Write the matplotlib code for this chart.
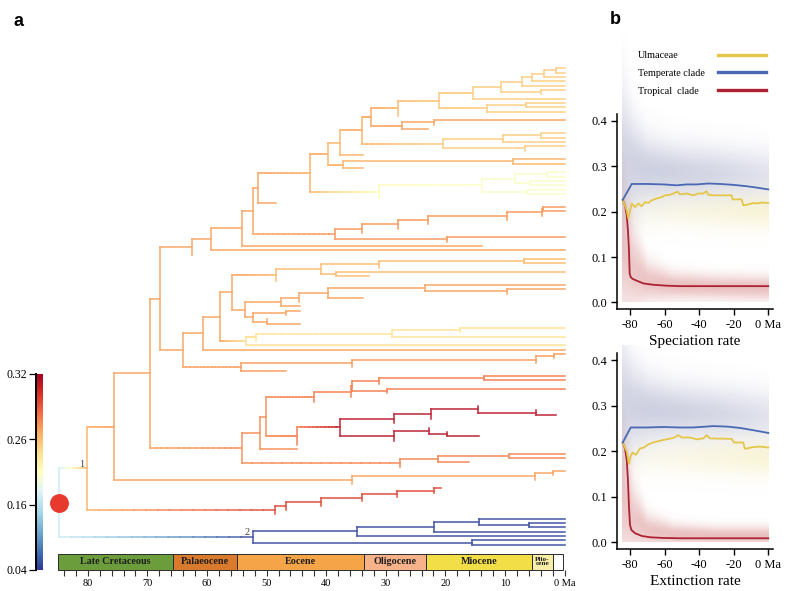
import numpy as np
import matplotlib
matplotlib.use("Agg")
import matplotlib.pyplot as plt
from matplotlib.collections import LineCollection
from matplotlib.colors import FuncNorm
from matplotlib.cm import ScalarMappable
from matplotlib.lines import Line2D

plt.rcParams["font.family"] = ["Liberation Serif", "DejaVu Serif"]

W, H = 798, 591

# ---------------------------------------------------------------
# tree in a small newick-like form
#   ")age"  node age in Ma,  ":r" rate (inherited downwards)
#   tips: t = reaches present, z = zero length, eX = ends at X Ma
# ---------------------------------------------------------------
A1 = "(t,t)1.5"
A2 = f"({A1},t)3.5"
A3 = f"({A2},t)5.5"
A4 = f"({A3},t)7.2"
A5 = "(t,z)3.9"
A6 = f"({A4},{A5})10.7"
A7 = f"({A6},t)15.3:0.252"
B2 = "((t,t)6.4,t)13.1:0.252"
A8 = f"({A7},{B2})21.0:0.256"
A9 = f"({A8},z)27.9:0.262"
C2 = "((t,z)21.9,e23.0)27.2:0.27"
A10 = f"({A9},{C2})32.4:0.268"
D4 = "(((t,t)4.0,t)10.4,(t,z)6.6)20.4:0.252"
A11 = f"({A10},{D4})34.0:0.266"
A12 = f"({A11},e33.9)37.7:0.264"
E2 = "((t,t)8.6,e33.9)37.1:0.265"
A13 = f"({A12},{E2})39.7:0.264"
F6 = "((((t,t)3.0,(t,t)5.8)8.3,(t,t)6.3)13.8:0.206,z)31.1:0.214"
A14 = f"({A13},{F6})42.7:0.266"
A15 = f"({A14},e48.4)51.4"
G6 = "((((((t,t)3.6,z)3.8,z)9.7,z)23.0,z)27.9,z)34.0"
G8 = f"({G6},(t,z)19.7)38.6:0.273"
A16 = f"({A15},{G8})52.3"
A17 = f"({A16},e13.9)54.2"
A18 = f"({A17},t)59.3"
A19 = f"({A18},z)62.5:0.27"

H4 = "(((t,t)6.8,z)31.1,(t,e32.8)38.3)40.8"
H5 = f"({H4},z)48.5:0.262"
I3 = "((t,(t,z)9.7)23.5,e33.9)39.7:0.27"
J2 = f"(({I3},z)44.5,e44.4)47.5"
J5 = "((e44.4,z)46.7,(z,e44.4)50.0)52.2"
J6 = f"({J2},{J5})53.7:0.27"
K1 = f"({H5},{J6})55.8"
L4 = "((((t,z)17.6,t)28.9:0.236,z)51.8:0.238,t)53.5:0.24"
K3 = f"(({K1},{L4})57.8,t)60.6"
M1 = "((((t,z)1.8,z)4.8,z)35.6,e46.7)54.3:0.272"
K4 = f"({K3},{M1})64.1"
K5 = f"({A19},{K4})67.9"

Q = "(((((t,t)13.6,z)31.1,(t,z)29.8)35.6,z)35.9,z)42.0:0.28"
S1 = "(((z,(z,e1.5)4.8)14.5,z)22.4,z)28.7"
S2 = "((z,(z,e14.4)19.8)22.7,z)28.7"
R = f"(({S1},{S2})37.7:0.312,z)44.9:0.28"
NUP = f"(({Q},{R})50.1,e44.9)51.1"
O = "(((t,t)9.4,e16.0)21.3,z)27.6:0.278"
N = f"({NUP},{O})54.1:0.276"
K6 = f"({K5},{N})69.6:0.27"
U1 = "(((t,z)1.9,z)5.0,z)35.6"
X = f"({K6},{U1})75.6:0.27"
W2 = "((((((e20.8,z)21.9,z)28.2,z)34.0,z)40.9,z)46.8,z)48.6:0.297"
NODE1 = f"({X},{W2})80.1:0.265"
NODE2 = "((((t,(t,t)5.9)14.4,t)21.9,t)34.9,(t,t)15.6)52.2:0.05"
TREE = f"({NODE1},{NODE2})84.9:0.17"

RATE_TICKS = [0.04, 0.16, 0.26, 0.32]

PERIODS = ["Late Cretaceous", "Palaeocene", "Eocene", "Oligocene", "Miocene", "Plio-\ncene", ""]
PERIOD_BOUNDS = [85.0, 65.7, 55.0, 33.6, 23.3, 5.5, 1.9, 0.3]
PERIOD_COLORS = ["#6c9d3c", "#d97a2c", "#f5a548", "#f8b28a", "#f2df48", "#f6eea6", "#ffffff"]

# ---------------------------------------------------------------
# rates through time (panel b), Ma before present
# ---------------------------------------------------------------
spec_blue_t = [-84.2, -79.0, -70.4, -60.7, -53.0, -47.2, -41.4, -34.7, -27.9, -20.2, -12.5, -6.7, 0.0]
spec_blue = [0.226, 0.261, 0.261, 0.260, 0.258, 0.260, 0.260, 0.262, 0.261, 0.259, 0.256, 0.253, 0.249]
spec_yel_t = [-84.2, -81.9, -81.0, -79.0, -77.1, -75.2, -73.3, -71.3, -69.4, -67.5, -64.6, -61.7, -59.8,
              -56.9, -54.9, -52.4, -51.1, -47.2, -43.4, -40.5, -37.6, -35.7, -34.7, -31.8, -21.2, -20.6,
              -15.4, -14.5, -11.6, -8.7, -6.7, -3.9, 0.0]
spec_yel = [0.226, 0.203, 0.185, 0.218, 0.210, 0.218, 0.212, 0.221, 0.219, 0.225, 0.229, 0.232, 0.236,
            0.237, 0.240, 0.244, 0.238, 0.240, 0.236, 0.240, 0.240, 0.245, 0.237, 0.236, 0.236, 0.227,
            0.227, 0.214, 0.216, 0.219, 0.218, 0.220, 0.219]
spec_red_t = [-84.2, -82.9, -81.9, -81.2, -80.6, -80.2, -79.6, -78.5, -76.1, -72.3, -66.5, -58.8, -51.1, 0.0]
spec_red = [0.226, 0.214, 0.192, 0.159, 0.115, 0.064, 0.056, 0.052, 0.048, 0.042, 0.039, 0.037, 0.036, 0.036]

ext_blue_t = [-84.2, -79.6, -70.4, -60.7, -51.1, -43.4, -35.7, -31.8, -24.1, -16.4, -8.7, 0.0]
ext_blue = [0.219, 0.252, 0.252, 0.253, 0.252, 0.252, 0.254, 0.255, 0.254, 0.251, 0.246, 0.240]
ext_yel_t = [-84.2, -81.9, -80.6, -79.6, -78.5, -76.5, -74.2, -71.9, -69.4, -66.5, -62.6, -58.8, -54.9,
             -52.0, -50.1, -45.3, -41.4, -37.6, -35.7, -33.7, -21.2, -19.9, -14.5, -13.5, -8.7, -4.8, 0.0]
ext_yel = [0.219, 0.199, 0.172, 0.189, 0.197, 0.192, 0.206, 0.208, 0.215, 0.219, 0.223, 0.226, 0.229,
           0.235, 0.230, 0.230, 0.226, 0.228, 0.235, 0.228, 0.227, 0.219, 0.219, 0.205, 0.209, 0.210, 0.208]
ext_red_t = [-84.2, -82.9, -81.9, -81.2, -80.6, -80.0, -79.2, -77.1, -73.3, -68.4, -60.7, -51.1, 0.0]
ext_red = [0.219, 0.206, 0.181, 0.137, 0.078, 0.038, 0.027, 0.020, 0.014, 0.011, 0.0095, 0.0088, 0.0088]

# posterior clouds: centre, spread, strength at HAZE_T
HAZE_T = [-84.5, -78, -70, -55, -30, 0]
spec_haze_blue = ([0.31, 0.30, 0.29, 0.285, 0.282, 0.278], [0.11, 0.07, 0.05, 0.042, 0.04, 0.038], [0.3, 0.32, 0.33, 0.32, 0.28, 0.2])
spec_haze_yel = ([0.20] * 6, [0.028] * 6, [0.05, 0.08, 0.1, 0.14, 0.2, 0.28])
spec_haze_red = ([0.12, 0.07, 0.045, 0.035, 0.032, 0.03], [0.10, 0.06, 0.03, 0.02, 0.018, 0.018], [0.32, 0.32, 0.34, 0.36, 0.36, 0.36])
ext_haze_blue = ([0.30, 0.295, 0.29, 0.285, 0.28, 0.275], [0.10, 0.065, 0.05, 0.042, 0.04, 0.038], [0.3, 0.32, 0.33, 0.32, 0.28, 0.2])
ext_haze_yel = ([0.185] * 6, [0.028] * 6, [0.05, 0.08, 0.1, 0.14, 0.2, 0.28])
ext_haze_red = ([0.10, 0.05, 0.025, 0.016, 0.013, 0.013], [0.10, 0.05, 0.025, 0.016, 0.014, 0.014], [0.32, 0.32, 0.34, 0.36, 0.36, 0.36])

C_YEL, C_BLUE, C_RED = "#e3c64a", "#4a68b4", "#ad2233"
H_YEL, H_BLUE, H_RED = (0.93, 0.86, 0.45), (0.42, 0.45, 0.65), (0.78, 0.32, 0.32)


def px_axes(fig, x0, y0, x1, y1):
    return fig.add_axes([x0 / W, 1 - y1 / H, (x1 - x0) / W, (y1 - y0) / H])


def parse(s):
    pos = [0]

    def read():
        n = {"ch": []}
        if s[pos[0]] == "(":
            pos[0] += 1
            n["ch"].append(read())
            while s[pos[0]] == ",":
                pos[0] += 1
                n["ch"].append(read())
            pos[0] += 1
        j = pos[0]
        while pos[0] < len(s) and s[pos[0]] not in ",()":
            pos[0] += 1
        lab, _, r = s[j:pos[0]].partition(":")
        n["lab"] = lab
        n["rate"] = float(r) if r else None
        return n

    return read()


cmap = plt.get_cmap("RdYlBu_r")
norm = FuncNorm((lambda r: np.interp(r, RATE_TICKS, [0, 1 / 3, 2 / 3, 1]),
                 lambda p: np.interp(p, [0, 1 / 3, 2 / 3, 1], RATE_TICKS)), vmin=0.04, vmax=0.32)


def tone(r):
    c = np.array(cmap(norm(r))[:3])
    return 0.92 * c + 0.08


root = parse(TREE)
tips = []


def place(n, parent):
    if n["rate"] is None:
        n["rate"] = parent["rate"]
    lab = n["lab"]
    if n["ch"]:
        n["age"] = float(lab)
        for c in n["ch"]:
            place(c, n)
        n["y"] = 0.5 * (n["ch"][0]["y"] + n["ch"][-1]["y"])
    else:
        if lab == "t":
            n["age"] = 0.0
        elif lab == "z":
            n["age"] = parent["age"]
        else:
            n["age"] = float(lab[1:])
        n["y"] = len(tips)
        tips.append(n)


place(root, None)

hseg, hcol, vseg, vcol = [], [], [], []


def collect(n, parent):
    if parent is not None and parent["age"] - n["age"] > 1e-6:
        k = 1 if parent["rate"] == n["rate"] else 16
        a = np.linspace(parent["age"], n["age"], k + 1)
        r = np.linspace(parent["rate"], n["rate"], 2 * k + 1)[1::2]
        for i in range(k):
            hseg.append([(a[i], n["y"]), (a[i + 1], n["y"])])
            hcol.append(tone(r[i]))
    if n["ch"]:
        vseg.append([(n["age"], n["ch"][0]["y"]), (n["age"], n["ch"][-1]["y"])])
        vcol.append(tone(n["rate"]))
        for c in n["ch"]:
            collect(c, n)


collect(root, None)

fig = plt.figure(figsize=(W / 100, H / 100), dpi=100)

# ---------------- panel a: tree ----------------
XL = (86.34, -0.906)
ax = px_axes(fig, 50, 40, 570, 550)
ax.add_collection(LineCollection(hseg, colors=hcol, linewidths=1.1, capstyle="projecting"))
ax.add_collection(LineCollection(vseg, colors=vcol, linewidths=1.1, capstyle="projecting"))
ax.scatter([root["age"]], [root["y"]], s=185, color="#e8392e", zorder=5, linewidths=0)
for node, lab, dx in [(root["ch"][0], "1", -4.0), (root["ch"][1], "2", -4.6)]:
    ax.annotate(lab, (node["age"], node["y"]), xytext=(dx, 3.2), textcoords="offset points",
                ha="center", va="center", fontsize=7.5, color="#444444")
ax.set_xlim(*XL)
ax.set_ylim(111.22, -6.53)
ax.axis("off")

# geological time bar
ts = px_axes(fig, 50, 553.5, 570, 569.5)
for i, name in enumerate(PERIODS):
    old, young = PERIOD_BOUNDS[i], PERIOD_BOUNDS[i + 1]
    ts.barh(0.5, old - young, left=young, height=1, color=PERIOD_COLORS[i],
            edgecolor="#2b2b2b", linewidth=0.7, clip_on=False)
    if name:
        small = "\n" in name
        ts.text((old + young) / 2, 0.5, name, ha="center", va="center",
                fontsize=5.2 if small else 7.3, fontweight="bold", color="#1e1e1e",
                linespacing=0.75)
ts.set_xlim(*XL)
ts.set_ylim(0, 1)
for sp in ts.spines.values():
    sp.set_visible(False)
ts.set_yticks([])
major = np.arange(80, -1, -10)
ts.set_xticks(major)
ts.set_xticklabels([str(v) for v in major[:-1]] + ["0 Ma"])
ts.set_xticks(np.arange(84, -1, -2), minor=True)
ts.tick_params(axis="x", which="both", direction="out", length=4, width=0.8,
               color="#333333", labelsize=7.5, pad=2.5)

# colour bar
cax = px_axes(fig, 36, 374, 43, 570)
cb = fig.colorbar(ScalarMappable(norm=norm, cmap=cmap), cax=cax, ticks=RATE_TICKS)
cb.outline.set_visible(False)
cax.yaxis.set_ticks_position("left")
cb.set_ticklabels([f"{v:.2f}" for v in RATE_TICKS])
cax.tick_params(length=5, width=0.9, labelsize=8.5, pad=1.2)
cax.plot([0, 0], [0, 1], transform=cax.transAxes, color="k", lw=1.4, clip_on=False)


# ---------------- panel b: rates through time ----------------
def haze(axr, layers, v0, v1):
    tt = np.linspace(HAZE_T[0], HAZE_T[-1], 240)
    vv = np.linspace(v0, v1, 360)
    T, V = np.meshgrid(tt, vv)
    rgb = np.zeros(T.shape + (3,))
    alpha = np.zeros(T.shape + (1,))
    for color, (cen, sd, al) in layers:
        c = np.interp(T, HAZE_T, cen)
        s = np.interp(T, HAZE_T, sd)
        a = np.interp(T, HAZE_T, al)
        A = (a * np.exp(-0.5 * ((V - c) / s) ** 2))[..., None]
        rgb = rgb * (1 - A) + np.array(color) * A
        alpha = alpha * (1 - A) + A
    img = np.concatenate([rgb / np.maximum(alpha, 1e-6), alpha], axis=2)
    axr.imshow(np.clip(img, 0, 1), extent=(HAZE_T[0], HAZE_T[-1], v0, v1), origin="lower",
               aspect="auto", interpolation="bilinear", zorder=0)


def rate_panel(axr, series, layers, ylo, yhi, xlabel):
    haze(axr, layers, 0.0, yhi)
    for t, v, c, lab in series:
        axr.plot(t, v, color=c, lw=1.3, label=lab, zorder=3)
    axr.set_xlim(-87.7, 2.9)
    axr.set_ylim(ylo, yhi)
    axr.patch.set_visible(False)
    axr.spines[["top", "right"]].set_visible(False)
    axr.spines["left"].set_bounds(ylo, 0.416)
    for sp in ("left", "bottom"):
        axr.spines[sp].set_linewidth(1.1)
    axr.set_yticks([0, 0.1, 0.2, 0.3, 0.4])
    axr.set_yticklabels(["0.0", "0.1", "0.2", "0.3", "0.4"])
    axr.set_xticks([-80, -60, -40, -20, 0])
    axr.set_xticklabels(["-80", "-60", "-40", "-20", "0 Ma"])
    axr.tick_params(length=4, width=1, labelsize=9, pad=3)
    axr.set_xlabel(xlabel, fontsize=11, labelpad=3)


b1 = px_axes(fig, 616.7, 35, 773.3, 309.3)
rate_panel(b1, [(spec_red_t, spec_red, C_RED, "Tropical  clade"),
                (spec_yel_t, spec_yel, C_YEL, "Ulmaceae"),
                (spec_blue_t, spec_blue, C_BLUE, "Temperate clade")],
           [(H_BLUE, spec_haze_blue), (H_YEL, spec_haze_yel), (H_RED, spec_haze_red)],
           -0.015, 0.589, "Speciation rate")

b2 = px_axes(fig, 616.7, 345, 773.3, 549.3)
rate_panel(b2, [(ext_red_t, ext_red, C_RED, "Tropical  clade"),
                (ext_yel_t, ext_yel, C_YEL, "Ulmaceae"),
                (ext_blue_t, ext_blue, C_BLUE, "Temperate clade")],
           [(H_BLUE, ext_haze_blue), (H_YEL, ext_haze_yel), (H_RED, ext_haze_red)],
           -0.0154, 0.433, "Extinction rate")

names = ["Ulmaceae", "Temperate clade", "Tropical  clade"]
cols = [C_YEL, C_BLUE, C_RED]
handles = [Line2D([], [], color="none") for _ in names] + [Line2D([], [], color=c, lw=2.4) for c in cols]
b1.legend(handles, names + ["", "", ""], ncol=2, loc="upper left",
          bbox_to_anchor=(587 / W, 1 - 51 / H), bbox_transform=fig.transFigure,
          frameon=False, fontsize=7.3, handlelength=4.7, handletextpad=0.3,
          columnspacing=1.35, labelspacing=0.86, borderpad=0, borderaxespad=0)

fig.text(18 / W, 1 - 21 / H, "a", fontfamily="Liberation Sans", fontweight="bold",
         fontsize=13, ha="center", va="center")
fig.text(615 / W, 1 - 19 / H, "b", fontfamily="Liberation Sans", fontweight="bold",
         fontsize=13, ha="center", va="center")

fig.savefig("out.png", dpi=100)
